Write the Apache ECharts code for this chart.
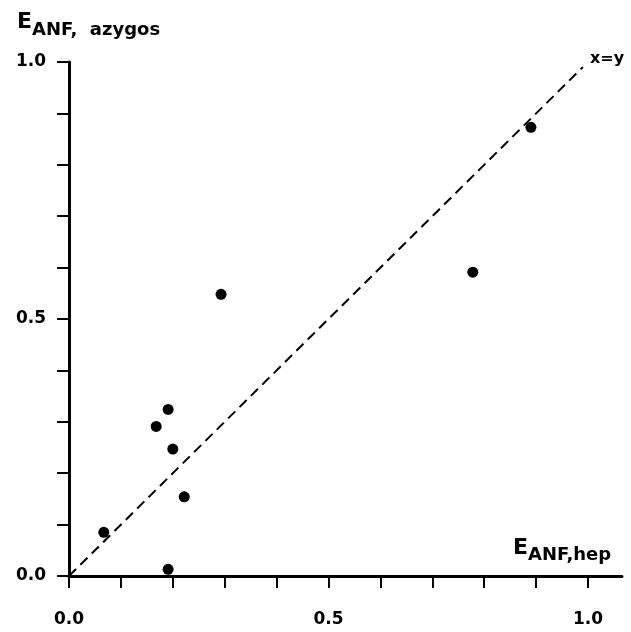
<!DOCTYPE html>
<html>
<head>
<meta charset="utf-8">
<script src="https://cdn.jsdelivr.net/npm/echarts@6/dist/echarts.min.js"></script>
<style>html,body{margin:0;padding:0;background:#fff}#c{width:631px;height:632px}</style>
</head>
<body>
<div id="c"></div>
<script>
// Data
const points = [
  [0.067, 0.085],
  [0.168, 0.291],
  [0.191, 0.324],
  [0.200, 0.247],
  [0.222, 0.154],
  [0.191, 0.013],
  [0.293, 0.548],
  [0.778, 0.591],
  [0.890, 0.873]
];
const identityLine = [[0, 0], [0.99, 0.99]];
const tickLabels = ['0.0', '0.5', '1.0'];

const FONT = '"DejaVu Sans", sans-serif';
const chart = echarts.init(document.getElementById('c'));
function fmt(v) {
  const s = (Math.round(v * 10) / 10).toFixed(1);
  return tickLabels.indexOf(s) >= 0 ? s : '';
}
const axisCommon = {
  type: 'value', min: 0, max: 1, interval: 0.1,
  axisLine: { show: true, lineStyle: { color: '#000', width: 3 } },
  axisTick: { show: true, length: 12, lineStyle: { color: '#000', width: 2 } },
  splitLine: { show: false },
  axisLabel: { color: '#000', fontFamily: FONT, fontWeight: 'bold', fontSize: 17, formatter: fmt }
};
function richSub(lh) {
  return {
    e: { fontFamily: FONT, fontWeight: 'bold', fontSize: 22, color: '#000', lineHeight: lh, verticalAlign: 'top' },
    s: { fontFamily: FONT, fontWeight: 'bold', fontSize: 18, color: '#000', lineHeight: lh, verticalAlign: 'bottom' }
  };
}
chart.setOption({
  animation: false,
  backgroundColor: '#fff',
  title: [
    { text: '{e|E}{s|ANF,  azygos}', left: 17, top: 11, padding: 0, textStyle: { rich: richSub(28) } },
    { text: 'x=y', left: 590, top: 51, padding: 0,
      textStyle: { fontFamily: FONT, fontWeight: 'bold', fontSize: 16, color: '#000' } },
    { text: '{e|E}{s|ANF,hep}', left: 513, top: 537, padding: 0, textStyle: { rich: richSub(27) } }
  ],
  grid: [
    { left: 69, right: 43, top: 62, bottom: 56, containLabel: false },
    { left: 69, right: 9, top: 62, bottom: 56, containLabel: false }
  ],
  xAxis: [
    Object.assign({}, axisCommon, { gridIndex: 0, axisLabel: Object.assign({}, axisCommon.axisLabel, { margin: 35 }) }),
    { type: 'value', gridIndex: 1, min: 0, max: 1, axisLine: { show: true, lineStyle: { color: '#000', width: 3 } },
      axisTick: { show: false }, axisLabel: { show: false }, splitLine: { show: false } }
  ],
  yAxis: [
    Object.assign({}, axisCommon, { gridIndex: 0, axisLabel: Object.assign({}, axisCommon.axisLabel, { margin: 23 }) }),
    { type: 'value', gridIndex: 1, min: 0, max: 1, show: false }
  ],
  series: [
    {
      type: 'line', xAxisIndex: 0, yAxisIndex: 0, data: identityLine,
      showSymbol: false, symbol: 'none',
      lineStyle: { color: '#000', width: 2, type: [10, 6] }
    },
    {
      type: 'scatter', xAxisIndex: 0, yAxisIndex: 0, data: points,
      symbolSize: 11, itemStyle: { color: '#000', opacity: 1 }
    }
  ]
});
</script>
</body>
</html>
